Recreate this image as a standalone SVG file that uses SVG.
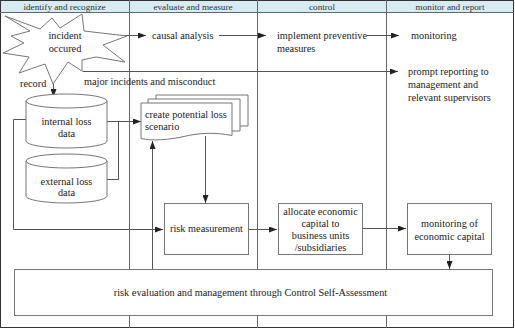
<svg xmlns="http://www.w3.org/2000/svg" width="515" height="329" viewBox="0 0 515 329" font-family="'Liberation Serif', 'DejaVu Serif', serif">
<style>
text{font-family:'Liberation Serif','DejaVu Serif',serif;font-size:10.3px;fill:#222}
.h{font-size:9.2px;fill:#333;text-anchor:middle}
.c{text-anchor:middle}
.box{fill:#fff;stroke:#777;stroke-width:1}
.lane{stroke:#666;stroke-width:1;fill:none}
.con{stroke:#555;stroke-width:1;fill:none}
.arr{stroke:#555;stroke-width:1;fill:none;marker-end:url(#ah)}
</style>
<defs>
<marker id="ah" viewBox="0 0 8 6" refX="8" refY="3" markerWidth="8" markerHeight="6" markerUnits="userSpaceOnUse" orient="auto">
<path d="M0,0 L8,3 L0,6 Z" fill="#222"/>
</marker>
</defs>
<g id="frame">
<rect x="0.5" y="0.5" width="513" height="327" fill="#fff" stroke="#333"/>
<rect x="1" y="1" width="512" height="11" fill="#d6ecf0"/>
<line x1="0" y1="12.5" x2="514" y2="12.5" class="lane"/>
<line x1="129.5" y1="0" x2="129.5" y2="328" class="lane"/>
<line x1="257.5" y1="0" x2="257.5" y2="328" class="lane"/>
<line x1="386.5" y1="0" x2="386.5" y2="328" class="lane"/>
<text class="h" x="64.5" y="9.5">identify and recognize</text>
<text class="h" x="193" y="9.5">evaluate and measure</text>
<text class="h" x="322" y="9.5">control</text>
<text class="h" x="450" y="9.5">monitor and report</text>
</g>
<g id="connectors">
<path class="arr" d="M120,35.5 H146"/>
<path class="arr" d="M219,35.5 H266"/>
<path class="arr" d="M367,35.5 H399"/>
<path class="arr" d="M82.5,71.5 H398"/>
<path class="arr" d="M53.5,84 V97"/>
<path class="arr" d="M107,121.5 H141"/>
<path class="con" d="M107,121.5 H118.5 V179.5 H107"/>
<path class="arr" d="M26,119.5 H13.5 V229.5 H163"/>
<path class="arr" d="M205.5,136 V203"/>
<path class="arr" d="M152.5,269 V141"/>
<path class="arr" d="M248,229.5 H277"/>
<path class="arr" d="M362,228.5 H406"/>
<path class="arr" d="M449.5,255 V269"/>
</g>
<g id="incident">
<polygon class="box" points="5,16 40,29 52,18 60,28 82,14 84,31 127,36 103,45 125,62 96,57 82,60 82,71 68,62 53,84 45,64 19,73 29,57 3,53 24,43 11,36 30,31"/>
<text class="c" x="65" y="39">incident</text>
<text class="c" x="65" y="52">occured</text>
</g>
<g id="causal">
<text x="152" y="39">causal analysis</text>
</g>
<g id="preventive">
<text x="277" y="39">implement preventive</text>
<text x="277" y="52">measures</text>
</g>
<g id="monitoring">
<text x="411" y="39">monitoring</text>
</g>
<g id="prompt">
<text x="408" y="75">prompt reporting to</text>
<text x="408" y="88">management and</text>
<text x="408" y="101">relevant supervisors</text>
</g>
<g id="labels">
<text x="20" y="87">record</text>
<text x="84" y="85">major incidents and misconduct</text>
</g>
<g id="internal">
<path class="box" d="M26,101 A40.5,7 0 0 1 107,101 V141 A40.5,7 0 0 1 26,141 Z"/>
<path class="box" d="M26,101 A40.5,7 0 0 0 107,101" fill="none"/>
<text class="c" x="66.5" y="125">internal loss</text>
<text class="c" x="66.5" y="137">data</text>
</g>
<g id="external">
<path class="box" d="M26,161 A40.5,7 0 0 1 107,161 V196 A40.5,7 0 0 1 26,196 Z"/>
<path class="box" d="M26,161 A40.5,7 0 0 0 107,161" fill="none"/>
<text class="c" x="66.5" y="185">external loss</text>
<text class="c" x="66.5" y="196">data</text>
</g>
<g id="scenario">
<path class="box" d="M156,99 V95 H248 V126 H240"/>
<path class="box" d="M148,103 V99 H240 V131 H232"/>
<path class="box" d="M141,103 H232 V135.5 C215,132 198,133 184,136.5 C168,140 152,141 141,138.5 Z"/>
<text x="145" y="118">create potential loss</text>
<text x="145" y="130">scenario</text>
</g>
<g id="risk">
<rect class="box" x="164.5" y="203.5" width="84" height="51"/>
<text class="c" x="206.5" y="232">risk measurement</text>
</g>
<g id="allocate">
<rect class="box" x="278.5" y="203.5" width="84" height="51"/>
<text class="c" x="320.5" y="215">allocate economic</text>
<text class="c" x="320.5" y="227">capital to</text>
<text class="c" x="320.5" y="239">business units</text>
<text class="c" x="320.5" y="251">/subsidiaries</text>
</g>
<g id="moncap">
<rect class="box" x="407.5" y="203.5" width="84" height="51"/>
<text class="c" x="449.5" y="227">monitoring of</text>
<text class="c" x="449.5" y="240">economic capital</text>
</g>
<g id="csa">
<rect class="box" x="14.5" y="269.5" width="478" height="46"/>
<text class="c" x="250.5" y="296">risk evaluation and management through Control Self-Assessment</text>
</g>
</svg>
